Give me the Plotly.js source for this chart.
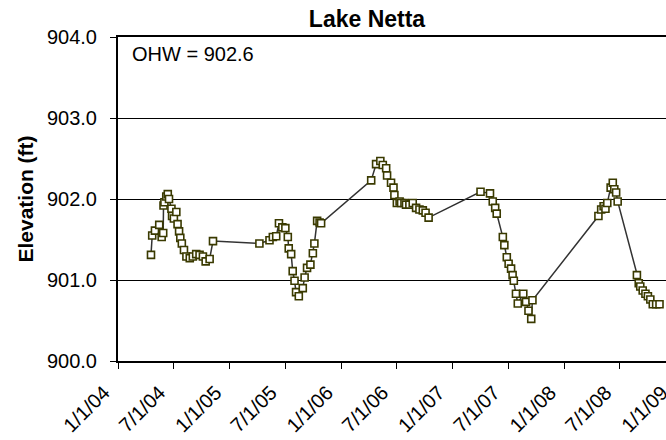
<!DOCTYPE html>
<html>
<head>
<meta charset="utf-8">
<script src="https://cdn.plot.ly/plotly-3.0.1.min.js"></script>
<style>
html,body{margin:0;padding:0;overflow:hidden;background:#fff;}
#chart{width:680px;height:440px;}
</style>
</head>
<body>
<div id="chart"></div>
<script>
const dates = [
 '2004-04-18','2004-04-22','2004-05-01','2004-05-15','2004-05-23','2004-05-28','2004-05-29','2004-06-01',
 '2004-06-07','2004-06-12','2004-06-16','2004-06-24','2004-06-26','2004-07-02','2004-07-10','2004-07-14',
 '2004-07-19','2004-07-23','2004-07-28','2004-08-04','2004-08-12','2004-08-23','2004-09-02','2004-09-13',
 '2004-09-24','2004-10-05','2004-10-14','2004-10-27','2004-11-07',
 '2005-04-08','2005-05-11','2005-05-22','2005-06-02','2005-06-11','2005-06-22','2005-07-02','2005-07-10',
 '2005-07-13','2005-07-21','2005-07-26','2005-08-01','2005-08-06','2005-08-15','2005-08-28','2005-09-03',
 '2005-09-11','2005-09-22','2005-09-30','2005-10-05','2005-10-14','2005-10-22','2005-10-27',
 '2006-04-09','2006-04-25','2006-05-09','2006-05-17','2006-05-28','2006-05-31','2006-06-13','2006-06-21',
 '2006-06-24','2006-07-02','2006-07-11','2006-07-16','2006-07-27','2006-08-01','2006-08-12','2006-08-23',
 '2006-09-03','2006-09-14','2006-09-25','2006-10-04','2006-10-14',
 '2007-04-02','2007-05-03','2007-05-12','2007-05-20','2007-05-25','2007-06-14','2007-06-19','2007-06-27',
 '2007-07-03','2007-07-11','2007-07-16','2007-07-20','2007-07-27','2007-08-02','2007-08-20','2007-08-29',
 '2007-09-06','2007-09-15','2007-09-19',
 '2008-04-22','2008-05-01','2008-05-09','2008-05-15','2008-05-21','2008-06-01','2008-06-08','2008-06-13',
 '2008-06-19','2008-06-24','2008-08-26','2008-09-01','2008-09-06','2008-09-14','2008-09-23','2008-10-01',
 '2008-10-09','2008-10-17','2008-10-28','2008-11-08'
];
const elevation = [
 901.31,901.55,901.61,901.68,901.53,901.58,901.92,901.96,
 902.03,902.06,902.00,901.88,901.79,901.76,901.84,901.69,
 901.60,901.52,901.45,901.37,901.29,901.27,901.29,901.32,
 901.31,901.29,901.23,901.26,901.48,
 901.45,901.49,901.53,901.54,901.70,901.65,901.64,901.53,
 901.39,901.32,901.11,900.99,900.85,900.80,900.90,901.03,
 901.15,901.19,901.33,901.45,901.73,901.71,901.70,
 902.23,902.43,902.47,902.42,902.38,902.29,902.20,902.14,
 902.05,901.95,901.97,901.95,901.95,901.93,901.93,901.95,
 901.89,901.87,901.86,901.83,901.77,
 902.09,902.07,901.97,901.89,901.82,901.53,901.43,901.28,
 901.20,901.14,901.06,900.99,900.83,900.71,900.83,900.73,
 900.62,900.52,900.75,
 901.79,901.87,901.91,901.88,901.95,902.14,902.20,902.12,
 902.08,901.97,901.06,900.96,900.92,900.87,900.83,900.80,
 900.76,900.70,900.70,900.70
];
const tickDates = ['2004-01-01','2004-07-01','2005-01-01','2005-07-01','2006-01-01','2006-07-01',
 '2007-01-01','2007-07-01','2008-01-01','2008-07-01','2009-01-01'];
const tickLabels = ['1/1/04','7/1/04','1/1/05','7/1/05','1/1/06','7/1/06','1/1/07','7/1/07','1/1/08','7/1/08','1/1/09'];
const yTicks = [900,901,902,903,904];
const yTickLabels = ['900.0','901.0','902.0','903.0','904.0'];
const chartTitle = 'Lake Netta';
const yTitle = 'Elevation (ft)';
const ohwNote = 'OHW = 902.6';

const font = 'Liberation Sans, Arial, sans-serif';

const trace = {
  x: dates, y: elevation, type: 'scatter', mode: 'lines+markers',
  line: {color: '#333333', width: 1.5},
  marker: {symbol: 'square', size: 7, color: '#ffffff', line: {color: '#3a3a00', width: 1.6}},
  hoverinfo: 'skip'
};

const layout = {
  width: 680, height: 440,
  margin: {l: 118, r: 4, t: 37, b: 79},
  paper_bgcolor: '#fff', plot_bgcolor: '#fff',
  showlegend: false,
  font: {family: font, size: 20, color: '#000'},
  title: {text: '<b>' + chartTitle + '</b>', font: {family: font, size: 23, color: '#000'},
          x: 367/680, xref: 'container', xanchor: 'center', y: 1 - 19/440, yref: 'container', yanchor: 'middle'},
  xaxis: {
    type: 'date', range: ['2004-01-01', '2009-01-01'],
    tickmode: 'array', tickvals: tickDates, ticktext: tickLabels, tickangle: -45,
    ticks: 'outside', ticklen: 6, tickwidth: 1, tickcolor: '#000',
    ticklabelstandoff: 4, ticklabelshift: -14, ticklabeloverflow: 'allow',
    showline: true, linecolor: '#000', linewidth: 2, mirror: true,
    showgrid: false, zeroline: false,
    tickfont: {family: font, size: 20, color: '#000'}
  },
  yaxis: {
    range: [900, 904], tickmode: 'array', tickvals: yTicks, ticktext: yTickLabels,
    ticks: 'outside', ticklen: 6, tickwidth: 1, tickcolor: '#000', ticklabelstandoff: 9,
    showline: true, linecolor: '#000', linewidth: 2, mirror: true,
    showgrid: true, gridcolor: '#000', gridwidth: 1, zeroline: false,
    tickfont: {family: font, size: 20, color: '#000'},
    title: {text: '<b>' + yTitle + '</b>', font: {family: font, size: 21, color: '#000'}, standoff: 8}
  },
  annotations: [{
    text: ohwNote, xref: 'paper', yref: 'paper', x: 0.022, y: 0.946,
    xanchor: 'left', yanchor: 'middle', showarrow: false,
    font: {family: font, size: 20, color: '#000'}
  }]
};

Plotly.newPlot('chart', [trace], layout, {staticPlot: true, displayModeBar: false});
</script>
</body>
</html>
